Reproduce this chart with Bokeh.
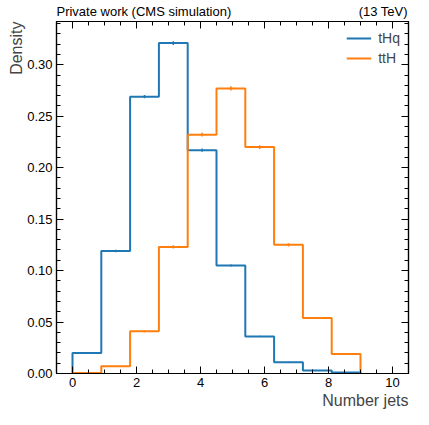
from bokeh.plotting import figure
from bokeh.models import (Range1d, SingleIntervalTicker, FixedTicker, LinearAxis,
                          PrintfTickFormatter, Title, Legend, LegendItem)
from bokeh.embed import file_html
from bokeh.resources import INLINE

# ---- data ----
bin_edges = [0.0, 0.9, 1.8, 2.7, 3.6, 4.5, 5.4, 6.3, 7.2, 8.1, 9.0]
thq_density = [0.020, 0.119, 0.269, 0.321, 0.217, 0.105, 0.036, 0.011, 0.003, 0.001]
thq_err = [0.0005, 0.0012, 0.0015, 0.0018, 0.0015, 0.0010, 0.0006, 0.0003, 0.0002, 0.0001]
tth_density = [0.0005, 0.007, 0.041, 0.123, 0.232, 0.277, 0.220, 0.125, 0.054, 0.019]
tth_err = [0.0001, 0.0004, 0.0010, 0.0015, 0.0018, 0.0020, 0.0018, 0.0015, 0.0010, 0.0005]
series_names = ["tHq", "ttH"]
series_colors = ["#1f77b4", "#ff7f0e"]
x_label = "Number jets"
y_label = "Density"
header_left = "Private work (CMS simulation)"
header_right = "(13 TeV)"
x_lo, x_hi = -0.5, 10.5
y_lo, y_hi = 0.0, 0.342

FONT = "Liberation Sans"
W, H = 413, 409
BL, BR, BT, BB = 56, 5, 21, 36
HEADER_PX = 13

p = figure(width=W, height=H, output_backend="svg", toolbar_location=None,
           x_range=Range1d(x_lo, x_hi), y_range=Range1d(y_lo, y_hi),
           min_border_left=BL, min_border_right=BR, min_border_top=BT, min_border_bottom=BB)
p.xgrid.visible = False
p.ygrid.visible = False
p.outline_line_color = "black"
p.outline_line_width = 1.2
p.background_fill_color = "white"
p.border_fill_color = "white"

def style_axis(ax, show_labels=True):
    ax.major_tick_in = 7
    ax.major_tick_out = 0
    ax.minor_tick_in = 4
    ax.minor_tick_out = 0
    ax.axis_line_color = "black"
    ax.major_tick_line_color = "black"
    ax.minor_tick_line_color = "black"
    ax.axis_line_width = 1.2
    if show_labels:
        ax.major_label_text_font = FONT
        ax.major_label_text_font_size = "13px"
        ax.major_label_text_color = "black"
        ax.major_label_standoff = 4
    else:
        ax.major_label_text_font_size = "0px"
        ax.major_label_text_color = None
        ax.major_label_standoff = 0

p.xaxis.ticker = SingleIntervalTicker(interval=2, num_minor_ticks=4)
p.yaxis.ticker = SingleIntervalTicker(interval=0.05, num_minor_ticks=5)
p.yaxis.formatter = PrintfTickFormatter(format="%.2f")
for ax in p.xaxis + p.yaxis:
    style_axis(ax)

top_ax = LinearAxis(ticker=SingleIntervalTicker(interval=2, num_minor_ticks=4))
right_ax = LinearAxis(ticker=SingleIntervalTicker(interval=0.05, num_minor_ticks=5))
style_axis(top_ax, False)
style_axis(right_ax, False)
p.add_layout(top_ax, "above")
p.add_layout(right_ax, "right")

# header texts on one row, via a bare axis whose two tick labels are the texts
frame_w = W - BL - BR
units_per_px = (x_hi - x_lo) / frame_w
em_left = 13.446   # Arial/Liberation advance widths (em) of the two texts
em_right = 3.890
pos_left = x_lo + em_left * HEADER_PX / 2 * units_per_px
pos_right = x_hi - em_right * HEADER_PX / 2 * units_per_px
head_ax = LinearAxis(ticker=FixedTicker(ticks=[pos_left, pos_right], minor_ticks=[]),
                     major_label_overrides={pos_left: header_left, pos_right: header_right})
head_ax.axis_line_color = None
head_ax.major_tick_line_color = None
head_ax.minor_tick_line_color = None
head_ax.major_tick_in = 0
head_ax.major_tick_out = 0
head_ax.major_label_standoff = 3
head_ax.major_label_text_font = FONT
head_ax.major_label_text_font_size = f"{HEADER_PX}px"
head_ax.major_label_text_color = "black"
p.add_layout(head_ax, "above")

p.add_layout(Title(text=x_label, align="right", text_font=FONT, text_font_size="16px",
                   text_font_style="normal", standoff=0, offset=0), "below")
p.add_layout(Title(text=y_label, align="right", text_font=FONT, text_font_size="16px",
                   text_font_style="normal", standoff=0, offset=0), "left")

items = []
for name, vals, errs, col in [(series_names[0], thq_density, thq_err, series_colors[0]),
                              (series_names[1], tth_density, tth_err, series_colors[1])]:
    xs = [bin_edges[0]] + bin_edges
    ys = [0.0] + vals + [0.0]
    r = p.step(x=xs, y=ys, mode="after", line_color=col, line_width=2)
    centers = [(bin_edges[i] + bin_edges[i + 1]) / 2 for i in range(len(vals))]
    p.segment(x0=centers, x1=centers, y0=[v - e for v, e in zip(vals, errs)],
              y1=[v + e for v, e in zip(vals, errs)], line_color=col, line_width=1.5)
    items.append(LegendItem(label=name, renderers=[r]))

legend = Legend(items=items, location="top_right", border_line_color=None,
                background_fill_alpha=0, label_text_font=FONT, label_text_font_size="14px",
                glyph_width=25, label_height=18, glyph_height=18, spacing=2,
                margin=8, padding=6, label_standoff=7)
p.add_layout(legend)

open("out.html", "w").write(file_html(p, INLINE))
